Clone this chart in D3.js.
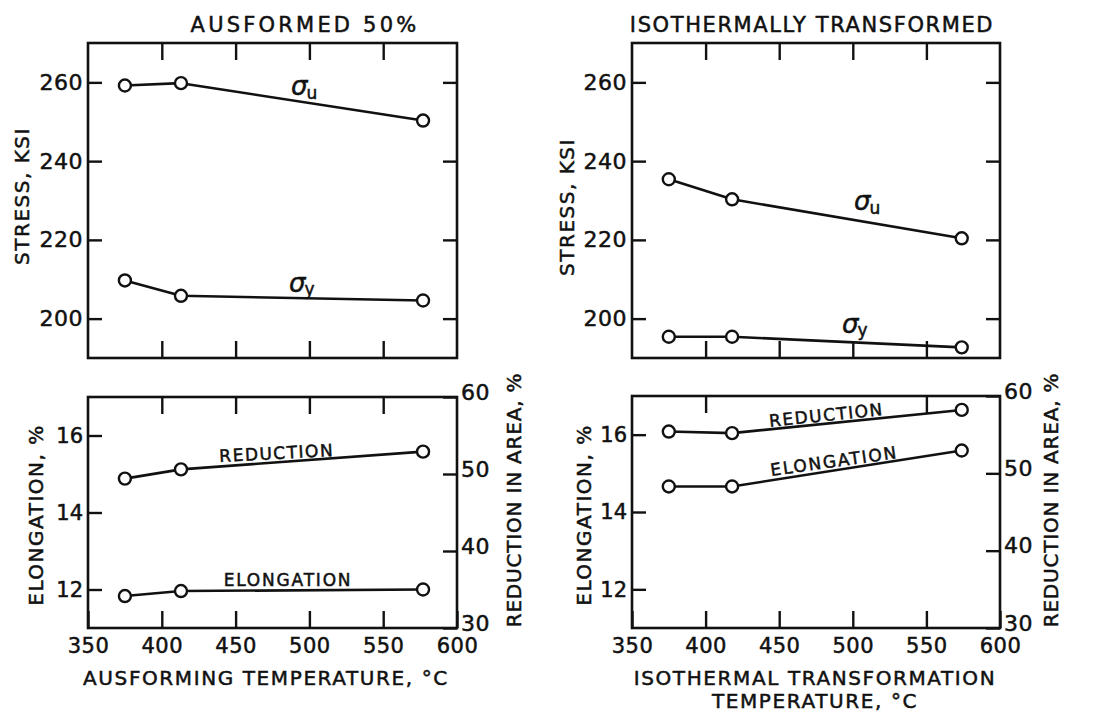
<!DOCTYPE html>
<html>
<head>
<meta charset="utf-8">
<script src="https://cdn.jsdelivr.net/npm/d3@7/dist/d3.min.js"></script>
<style>
  html, body { margin: 0; padding: 0; background: #fff; }
  svg { display: block; }
  text { font-family: "DejaVu Sans", "Liberation Sans", sans-serif; fill: #111; stroke: #111; stroke-width: 0.5px; }
</style>
</head>
<body>
<svg id="chart" width="1093" height="719"></svg>
<script>
// ---------- data ----------
const xTicks = [350, 400, 450, 500, 550, 600];
const stressTicks = [200, 220, 240, 260];
const elongTicks = [12, 14, 16];
const raTicks = [30, 40, 50, 60];

// Ausformed 50 %
const ausTemps = [375, 413, 577];
const ausUltimate = [259.2, 259.8, 250.3];
const ausYield = [209.7, 205.8, 204.6];
const ausReduction = [49.4, 50.6, 52.9];
const ausElongation = [11.83, 11.96, 12.0];

// Isothermally transformed
const isoTemps = [375, 418, 574];
const isoUltimate = [235.4, 230.3, 220.4];
const isoYield = [195.4, 195.4, 192.7];
const isoReduction = [55.4, 55.2, 58.2];
const isoElongation = [14.66, 14.66, 15.59];

const titles = ["AUSFORMED 50%", "ISOTHERMALLY TRANSFORMED"];
const xTitles = [["AUSFORMING TEMPERATURE, °C"], ["ISOTHERMAL TRANSFORMATION", "TEMPERATURE, °C"]];

// ---------- drawing ----------
const svg = d3.select("#chart");
const INK = "#111";
const TICK = 14;
const fmt = d3.format("d");

const columns = [
  {
    x0: 88, x1: 457,
    top: { y0: 43, y1: 358 }, bot: { y0: 397, y1: 628 },
    temps: ausTemps, ult: ausUltimate, yld: ausYield, red: ausReduction, elo: ausElongation,
    title: titles[0], titleX: 305, titleSpacing: 3.2, xTitle: xTitles[0], xTitleX: 266,
    stressLabelX: 22, stressLabelY: 196, elongLabelX: 36, raLabelX: 514,
    uLab: [291, 95], yLab: [289, 292],
    redLab: { x: 277, y: 459, rot: -3 }, eloLab: { x: 288, y: 586, rot: 0 },
    botTopTicks: [400, 450, 500, 550]
  },
  {
    x0: 632, x1: 1000,
    top: { y0: 43, y1: 358 }, bot: { y0: 396, y1: 628 },
    temps: isoTemps, ult: isoUltimate, yld: isoYield, red: isoReduction, elo: isoElongation,
    title: titles[1], titleX: 812, titleSpacing: 1.6, xTitle: xTitles[1], xTitleX: 815,
    stressLabelX: 567, stressLabelY: 207, elongLabelX: 584, raLabelX: 1051,
    uLab: [854, 210], yLab: [842, 333],
    redLab: { x: 827, y: 421, rot: -6 }, eloLab: { x: 835, y: 467, rot: -8 },
    botTopTicks: [400, 550]
  }
];

function styleAxis(g, fontSize) {
  g.select(".domain").remove();
  g.selectAll(".tick line").attr("stroke", INK).attr("stroke-width", 2.4);
  g.selectAll(".tick text")
    .style("font-size", fontSize + "px")
    .style("letter-spacing", "0.5px")
    .attr("fill", INK);
}

function drawSeries(g, x, y, temps, vals) {
  const pts = temps.map((t, i) => [t, vals[i]]);
  const line = d3.line().x(d => x(d[0])).y(d => y(d[1]));
  g.append("path").attr("d", line(pts))
    .attr("fill", "none").attr("stroke", INK).attr("stroke-width", 2.6)
    .attr("stroke-linejoin", "round");
  g.selectAll(null).data(pts).enter().append("circle")
    .attr("cx", d => x(d[0])).attr("cy", d => y(d[1])).attr("r", 6)
    .attr("fill", "#fff").attr("stroke", INK).attr("stroke-width", 2.4);
}

function frame(g, x0, x1, y0, y1) {
  g.append("rect").attr("x", x0).attr("y", y0)
    .attr("width", x1 - x0).attr("height", y1 - y0)
    .attr("fill", "none").attr("stroke", INK).attr("stroke-width", 2.6);
}

function vlabel(g, text, x, y, size, spacing) {
  g.append("text").attr("transform", `translate(${x},${y}) rotate(-90)`)
    .attr("text-anchor", "middle").attr("dominant-baseline", "central")
    .style("font-size", size + "px").style("letter-spacing", spacing + "px")
    .text(text);
}

columns.forEach(c => {
  const g = svg.append("g");
  const x = d3.scaleLinear().domain([350, 600]).range([c.x0, c.x1]);

  // ----- top (stress) panel -----
  const yS = d3.scaleLinear().domain([190, 270]).range([c.top.y1, c.top.y0]);
  g.append("g").attr("transform", `translate(${c.x0},0)`)
    .call(d3.axisLeft(yS).tickValues(stressTicks).tickSize(-TICK).tickPadding(5).tickFormat(fmt))
    .call(a => styleAxis(a, 22));
  g.append("g").attr("transform", `translate(${c.x1},0)`)
    .call(d3.axisRight(yS).tickValues(stressTicks).tickSize(-TICK).tickFormat(""))
    .call(a => styleAxis(a, 22));
  g.append("g").attr("transform", `translate(0,${c.top.y0})`)
    .call(d3.axisTop(x).tickValues([400, 450, 500, 550]).tickSize(-TICK - 3).tickFormat(""))
    .call(a => styleAxis(a, 22));
  g.append("g").attr("transform", `translate(0,${c.top.y1})`)
    .call(d3.axisBottom(x).tickValues([400, 450, 500, 550]).tickSize(-TICK - 3).tickFormat(""))
    .call(a => styleAxis(a, 22));
  frame(g, c.x0, c.x1, c.top.y0, c.top.y1);
  drawSeries(g, x, yS, c.temps, c.ult);
  drawSeries(g, x, yS, c.temps, c.yld);

  // sigma labels
  const su = g.append("text").attr("x", c.uLab[0]).attr("y", c.uLab[1])
    .style("font-size", "26px").style("font-style", "italic");
  su.append("tspan").text("σ");
  su.append("tspan").attr("dy", 4).attr("dx", -1).style("font-size", "17px").style("font-style", "normal").text("u");
  const sy = g.append("text").attr("x", c.yLab[0]).attr("y", c.yLab[1])
    .style("font-size", "26px").style("font-style", "italic");
  sy.append("tspan").text("σ");
  sy.append("tspan").attr("dy", 3).attr("dx", -1).style("font-size", "17px").style("font-style", "normal").text("y");

  // ----- bottom (ductility) panel -----
  const yE = d3.scaleLinear().domain([11, 17]).range([c.bot.y1, c.bot.y0]);
  const yR = d3.scaleLinear().domain([30, 60]).range([c.bot.y1, c.bot.y0]);
  g.append("g").attr("transform", `translate(${c.x0},0)`)
    .call(d3.axisLeft(yE).tickValues(elongTicks).tickSize(-TICK).tickPadding(5).tickFormat(fmt))
    .call(a => styleAxis(a, 21))
    .call(a => a.selectAll(".tick text").style("letter-spacing", "0px"));
  g.append("g").attr("transform", `translate(${c.x1},0)`)
    .call(d3.axisRight(yR).tickValues(raTicks).tickSize(-TICK).tickPadding(4).tickFormat(fmt))
    .call(a => styleAxis(a, 22))
    .call(a => a.selectAll(".tick text").attr("dy", "0.1em"));
  g.append("g").attr("transform", `translate(0,${c.bot.y0})`)
    .call(d3.axisTop(x).tickValues(c.botTopTicks).tickSize(-TICK - 3).tickFormat(""))
    .call(a => styleAxis(a, 22));
  g.append("g").attr("transform", `translate(0,${c.bot.y1})`)
    .call(d3.axisBottom(x).tickValues(xTicks).tickSize(-TICK - 3).tickPadding(10).tickFormat(fmt))
    .call(a => styleAxis(a, 21));
  frame(g, c.x0, c.x1, c.bot.y0, c.bot.y1);
  drawSeries(g, x, yR, c.temps, c.red);
  drawSeries(g, x, yE, c.temps, c.elo);

  g.append("text").attr("transform", `translate(${c.redLab.x},${c.redLab.y}) rotate(${c.redLab.rot})`)
    .attr("text-anchor", "middle").style("font-size", "17px").style("letter-spacing", "1.5px")
    .text("REDUCTION");
  g.append("text").attr("transform", `translate(${c.eloLab.x},${c.eloLab.y}) rotate(${c.eloLab.rot})`)
    .attr("text-anchor", "middle").style("font-size", "17px").style("letter-spacing", "1.8px")
    .text("ELONGATION");

  // ----- titles & axis labels -----
  g.append("text").attr("x", c.titleX).attr("y", 32).attr("text-anchor", "middle")
    .style("font-size", "21px").style("letter-spacing", c.titleSpacing + "px").text(c.title);
  vlabel(g, "STRESS, KSI", c.stressLabelX, c.stressLabelY, 20, 1.5);
  vlabel(g, "ELONGATION, %", c.elongLabelX, 515, 20, 1.5);
  vlabel(g, "REDUCTION IN AREA, %", c.raLabelX, 500, 20, 0.8);
  c.xTitle.forEach((t, i) => {
    g.append("text").attr("x", c.xTitleX).attr("y", 685 + i * 23).attr("text-anchor", "middle")
      .style("font-size", "20px").style("letter-spacing", "1.6px").text(t);
  });
});
</script>
</body>
</html>
